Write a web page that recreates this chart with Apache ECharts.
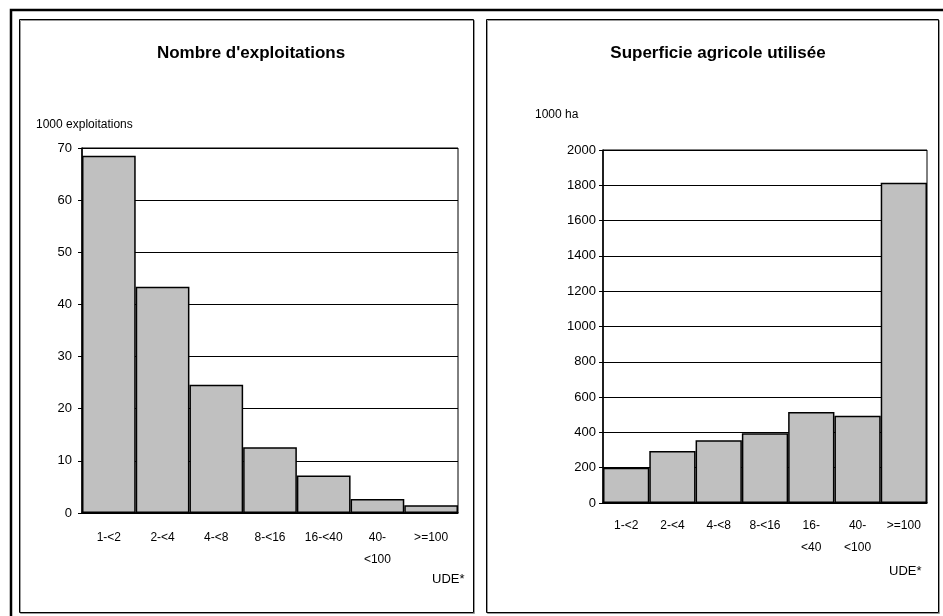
<!DOCTYPE html>
<html>
<head>
<meta charset="utf-8">
<script src="https://cdn.jsdelivr.net/npm/echarts@6/dist/echarts.min.js"></script>
<style>
html,body{margin:0;padding:0;background:#fff;}
#c{width:943px;height:616px;}
</style>
</head>
<body>
<div id="c"></div>
<script>
// Data
const catsLeft = ['1-<2', '2-<4', '4-<8', '8-<16', '16-<40', '40-\n<100', '>=100'];
const exploitations = [68.5, 43.4, 24.6, 12.6, 7.2, 2.7, 1.5];
const catsRight = ['1-<2', '2-<4', '4-<8', '8-<16', '16-\n<40', '40-\n<100', '>=100'];
const superficie = [200, 295, 355, 395, 515, 495, 1815];
const titleLeft = "Nombre d'exploitations";
const titleRight = 'Superficie agricole utilisée';
const unitLeft = '1000 exploitations';
const unitRight = '1000 ha';
const xUnit = 'UDE*';

const FONT = 'Liberation Sans, Arial, sans-serif';
const chart = echarts.init(document.getElementById('c'), null, {renderer: 'canvas'});

function yAxis(gi, max, interval, margin) {
  return {
    type: 'value', gridIndex: gi, min: 0, max: max, interval: interval,
    axisLine: {show: true, lineStyle: {color: '#000', width: 1.5}},
    axisTick: {show: true, length: 4, lineStyle: {color: '#000', width: 1}},
    axisLabel: {color: '#000', fontSize: 13, fontFamily: FONT, margin: margin,
      formatter: function (v) { return String(v); }},
    splitLine: {show: true, lineStyle: {color: '#000', width: 1}}
  };
}
function xAxis(gi, cats, margin) {
  return {
    type: 'category', gridIndex: gi, data: cats,
    axisLine: {show: true, lineStyle: {color: '#000', width: 1.5}},
    axisTick: {show: false},
    axisLabel: {color: '#000', fontSize: 12, fontFamily: FONT, margin: margin, lineHeight: 22, interval: 0, verticalAlign: 'top'},
    splitLine: {show: false}
  };
}
const barStyle = {color: '#c0c0c0', borderColor: '#000', borderWidth: 1.5};

chart.setOption({
  animation: false,
  backgroundColor: '#fff',
  title: [
    {text: titleLeft, left: 246, top: 40, textAlign: 'center',
     textStyle: {fontFamily: FONT, fontSize: 17, fontWeight: 'bold', color: '#000'}},
    {text: titleRight, left: 713, top: 40, textAlign: 'center',
     textStyle: {fontFamily: FONT, fontSize: 17, fontWeight: 'bold', color: '#000'}}
  ],
  graphic: [
    {type: 'rect', shape: {x: 11, y: 10, width: 1000, height: 1000}, style: {fill: 'none', stroke: '#000', lineWidth: 2.5}, silent: true},
    {type: 'rect', shape: {x: 20.5, y: 20.5, width: 454, height: 593}, style: {fill: 'none', stroke: '#999', lineWidth: 1}, silent: true},
    {type: 'rect', shape: {x: 19.5, y: 19.5, width: 454, height: 593}, style: {fill: 'none', stroke: '#000', lineWidth: 1}, silent: true},
    {type: 'rect', shape: {x: 487.5, y: 20.5, width: 452, height: 593}, style: {fill: 'none', stroke: '#999', lineWidth: 1}, silent: true},
    {type: 'rect', shape: {x: 486.5, y: 19.5, width: 452, height: 593}, style: {fill: 'none', stroke: '#000', lineWidth: 1}, silent: true},
    {type: 'text', left: 36, top: 119, style: {text: unitLeft, font: '12px ' + FONT, fill: '#000'}},
    {type: 'text', left: 535, top: 109, style: {text: unitRight, font: '12px ' + FONT, fill: '#000'}},
    {type: 'text', left: 432, top: 573, style: {text: xUnit, font: '13px ' + FONT, fill: '#000'}},
    {type: 'text', left: 889, top: 565, style: {text: xUnit, font: '13px ' + FONT, fill: '#000'}}
  ],
  grid: [
    {left: 82, top: 148, width: 376, height: 365, show: true, borderColor: '#000', borderWidth: 1, backgroundColor: 'transparent'},
    {left: 603, top: 150, width: 324, height: 353, show: true, borderColor: '#000', borderWidth: 1, backgroundColor: 'transparent'}
  ],
  xAxis: [xAxis(0, catsLeft, 14), xAxis(1, catsRight, 12)],
  yAxis: [yAxis(0, 70, 10, 10), yAxis(1, 2000, 200, 7)],
  series: [
    {type: 'bar', xAxisIndex: 0, yAxisIndex: 0, data: exploitations, barCategoryGap: '0%', itemStyle: barStyle},
    {type: 'bar', xAxisIndex: 1, yAxisIndex: 1, data: superficie, barCategoryGap: '0%', itemStyle: barStyle}
  ]
});
</script>
</body>
</html>
